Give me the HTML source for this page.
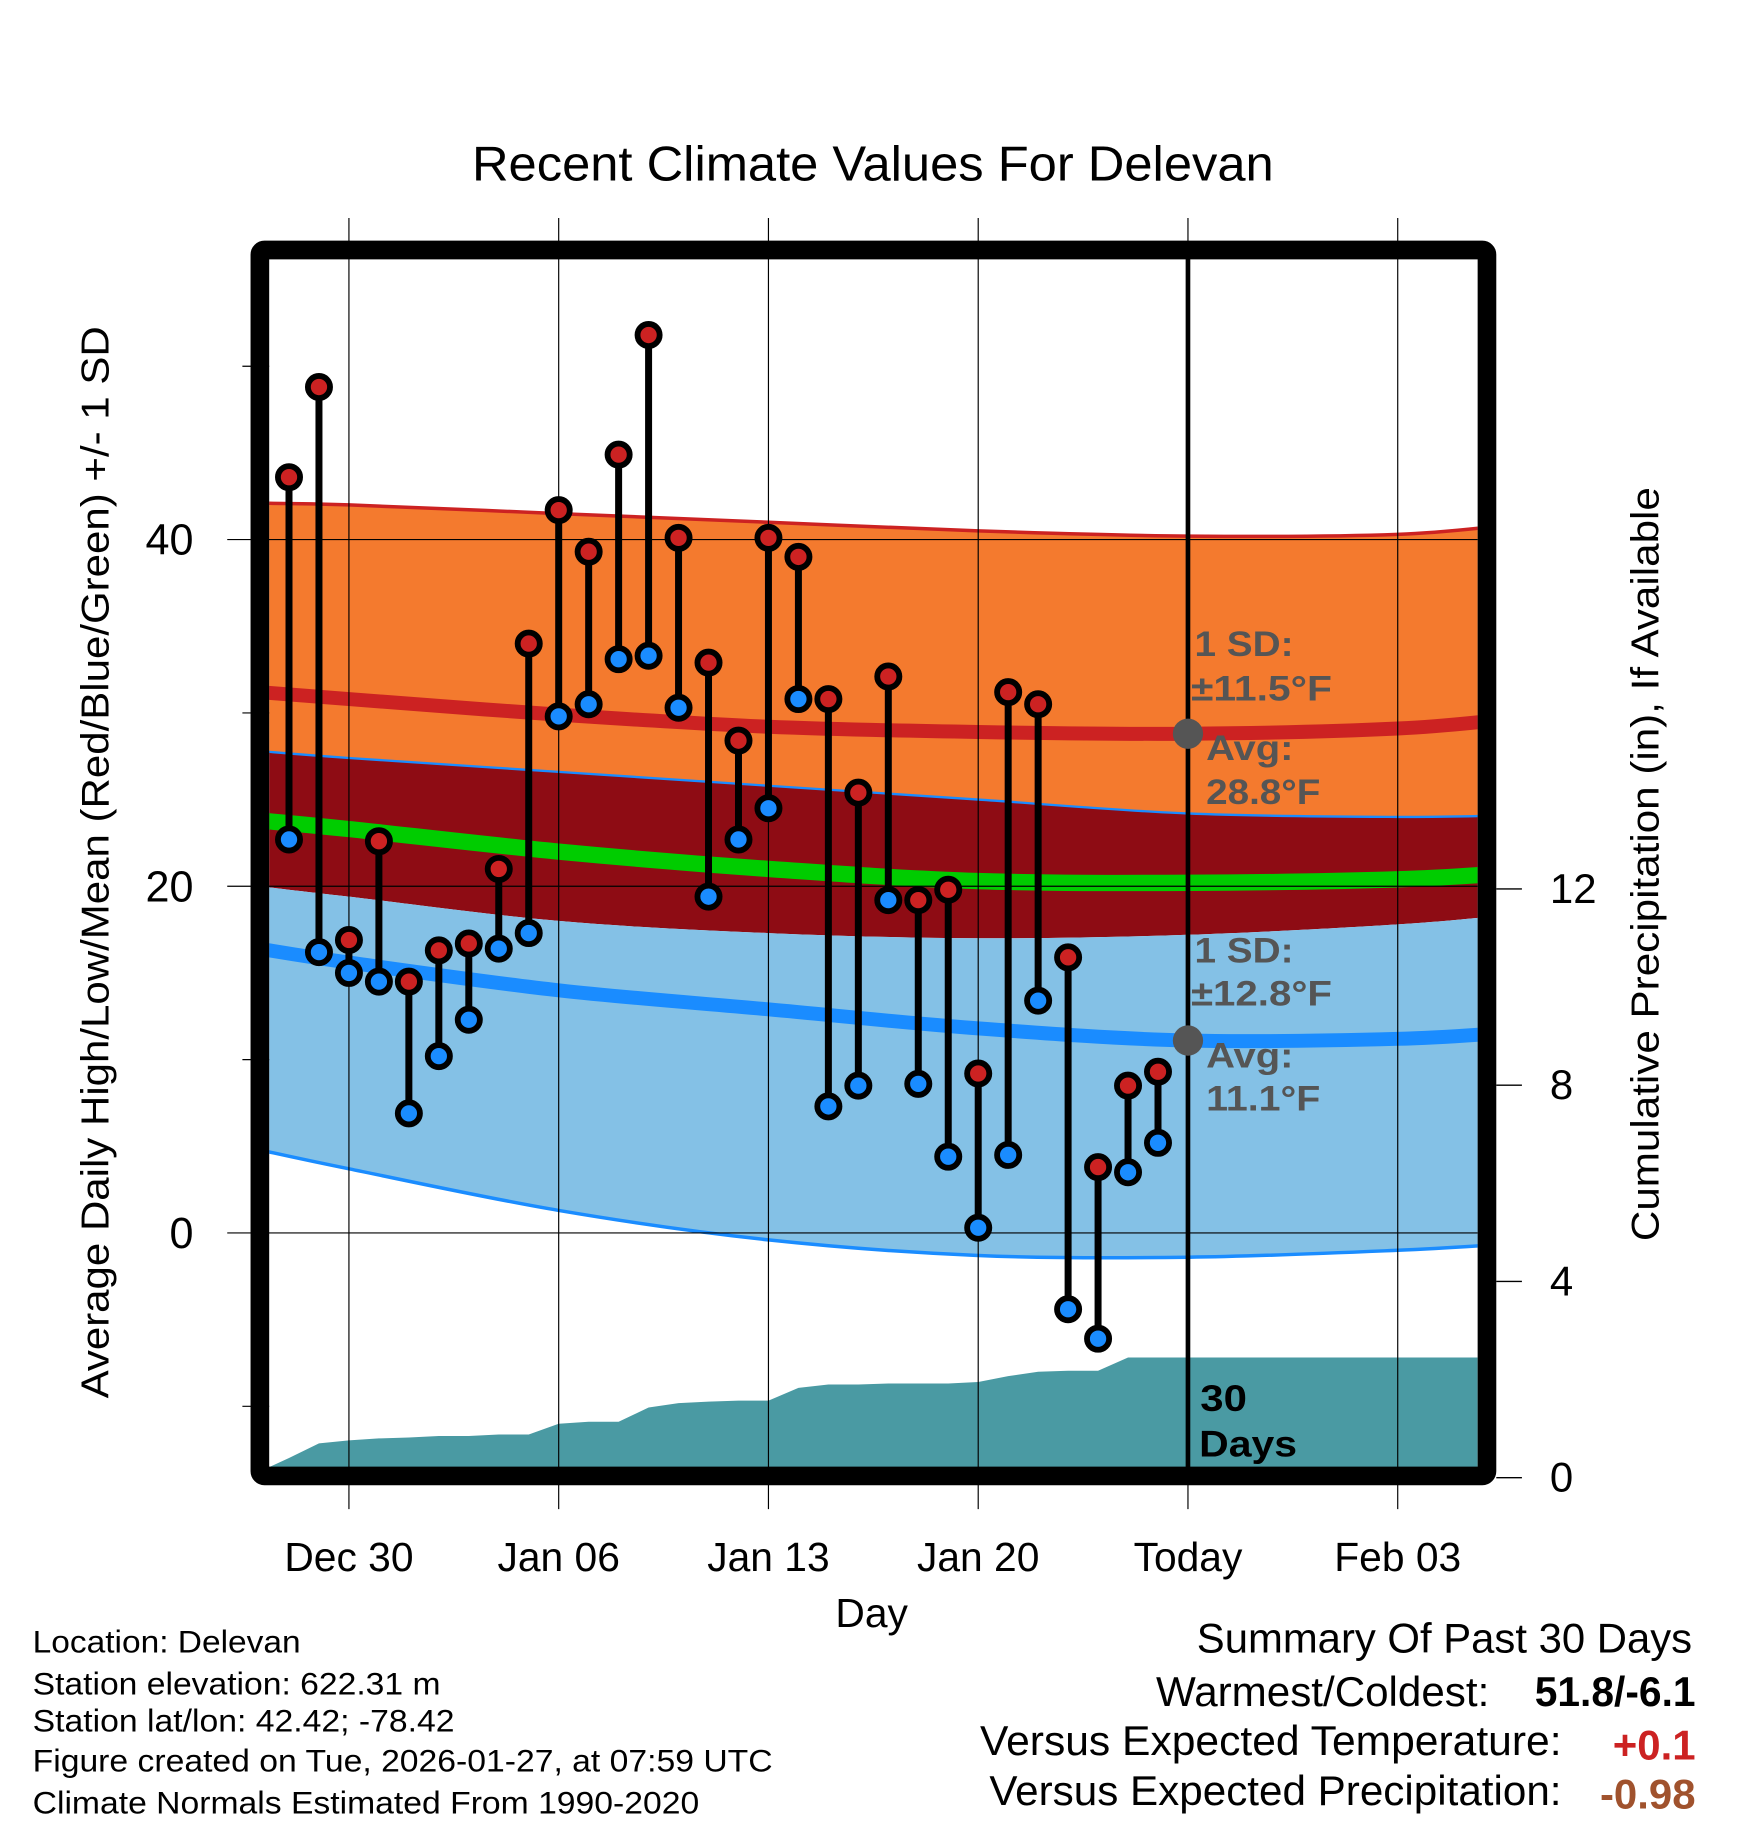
<!DOCTYPE html>
<html><head><meta charset="utf-8"><style>
html,body{margin:0;padding:0;background:#fff}
svg{display:block}
text{font-family:"Liberation Sans",sans-serif}
</style></head><body>
<svg id="chart" width="1748" height="1828" viewBox="0 0 1500 1568.6" xmlns="http://www.w3.org/2000/svg">
<g id="fills"></g><g id="grid"></g><g id="marks"></g><g id="frame"></g><g id="labels"></g>
</svg>
<script>
// ---- data ----
const pointDays = [0,1,2,3,4,5,6,7,8,9,10,11,12,13,14,15,16,17,18,19,20,21,22,23,24,25,26,27,28,29]; // days after Dec 28
const highs = [43.6,48.8,16.9,22.6,14.5,16.3,16.7,21.0,34.0,41.7,39.3,44.9,51.8,40.1,32.9,28.4,40.1,39.0,30.8,25.4,32.1,19.2,19.8,9.2,31.2,30.5,15.9,3.8,8.5,9.3];
const lows  = [22.7,16.2,15.0,14.5,6.9,10.2,12.3,16.4,17.3,29.8,30.5,33.1,33.3,30.3,19.4,22.7,24.5,30.8,7.3,8.5,19.2,8.6,4.4,0.3,4.5,13.4,-4.4,-6.1,3.5,5.2];
const precip = [0.4,0.7,0.76,0.8,0.82,0.85,0.85,0.88,0.88,1.1,1.14,1.14,1.43,1.52,1.55,1.57,1.57,1.83,1.9,1.9,1.92,1.92,1.92,1.95,2.07,2.16,2.18,2.18,2.45,2.45];
const normDays = [-1,2,9,16,23,30,37,41];
const sdHighTop = [42.1,42.0,41.5,41.0,40.5,40.2,40.3,40.9];
const avgHigh   = [31.2,30.8,29.9,29.2,28.9,28.8,29.1,29.7];
const sdHighBot = [27.8,27.4,26.6,25.8,25.0,24.2,24.0,24.1];
const avgMean   = [23.8,23.3,22.0,21.0,20.3,20.2,20.4,20.8];
const sdLowTop  = [20.0,19.4,18.0,17.3,17.0,17.2,17.8,18.4];
const avgLow    = [16.4,15.6,14.0,12.9,11.8,11.1,11.2,11.6];
const sdLowBot  = [4.8,3.7,1.3,-0.4,-1.3,-1.4,-1.0,-0.6];
const xTickDays = [2,9,16,23,30,37];
const xTickLabels = ["Dec 30","Jan 06","Jan 13","Jan 20","Today","Feb 03"];
const yTicks = [0,20,40];
const yMinor = [-10,10,30,50];
const pTicks = [0,4,8,12];

const NS="http://www.w3.org/2000/svg";
const L=231,R=1268,T=222,B=1259;
const X=d=>248+d*25.714;
const Y=v=>1058-v*14.875;
const P=v=>1268-v*42.1;
function mk(p,tag,at,txt){const e=document.createElementNS(NS,tag);for(const k in at)e.setAttribute(k,at[k]);if(txt!==undefined)e.textContent=txt;document.getElementById(p).appendChild(e);return e;}
function curve(ds,vs){let pts=ds.map((d,i)=>[X(d),Y(vs[i])]);let s="M"+pts[0];for(let i=0;i<pts.length-1;i++){const p0=pts[i-1]||pts[i],p1=pts[i],p2=pts[i+1],p3=pts[i+2]||p2;const c1=[p1[0]+(p2[0]-p0[0])/6,p1[1]+(p2[1]-p0[1])/6],c2=[p2[0]-(p3[0]-p1[0])/6,p2[1]-(p3[1]-p1[1])/6];s+=" C"+c1+" "+c2+" "+p2;}return s;}
function rev(ds,vs){return curve(ds.slice().reverse(),vs.slice().reverse()).replace(/^M/,"L");}
function band(a,b,fill,name){const e=mk("fills","path",{d:curve(normDays,a)+rev(normDays,b)+"Z",fill:fill,"clip-path":"url(#clip)"});}
const defs=mk("fills","defs",{});const cp=document.createElementNS(NS,"clipPath");cp.id="clip";const cr=document.createElementNS(NS,"rect");cr.setAttribute("x",L);cr.setAttribute("y",T);cr.setAttribute("width",R-L);cr.setAttribute("height",B-T);cp.appendChild(cr);defs.appendChild(cp);

band(sdHighTop,sdHighBot,"#f47a2e","high-sd-band");
band(sdHighBot,sdLowTop,"#8e0c14","overlap-band");
band(sdLowTop,sdLowBot,"#84c1e6","low-sd-band");
function line(vs,col,w,name){const e=mk("fills","path",{d:curve(normDays,vs),fill:"none",stroke:col,"stroke-width":w,"clip-path":"url(#clip)"});}
line(sdHighTop,"#cc2222",3,"high-sd-top-line");
line(avgHigh,"#cc2222",12,"avg-high-line");
line(sdHighBot,"#1a8cff",2,"high-sd-bottom-line");
line(avgMean,"#00cc00",14,"avg-mean-line");
line(avgLow,"#1a8cff",12,"avg-low-line");
line(sdLowBot,"#1a8cff",3,"low-sd-bottom-line");
// precip area
let pd="M"+L+","+B;precip.forEach((v,i)=>{pd+=" L"+X(pointDays[i])+","+P(v);});pd+=" L"+X(29.6)+","+P(precip[precip.length-1])+" L"+R+","+P(precip[precip.length-1])+" L"+R+","+B+"Z";
const pa=mk("fills","path",{d:pd,fill:"#4a9aa3","clip-path":"url(#clip)"});

// grid
xTickDays.forEach(d=>{const e=mk("grid","line",{x1:X(d),x2:X(d),y1:187,y2:1295,stroke:"#000","stroke-width":1});});
yTicks.forEach(v=>{const e=mk("grid","line",{x1:195,x2:R,y1:Y(v),y2:Y(v),stroke:"#000","stroke-width":1});});
yMinor.forEach(v=>{const e=mk("grid","line",{x1:208,x2:L,y1:Y(v),y2:Y(v),stroke:"#000","stroke-width":1});});
pTicks.forEach(v=>{const e=mk("grid","line",{x1:1284,x2:1306,y1:P(v),y2:P(v),stroke:"#000","stroke-width":1.2});});
const tl=mk("grid","line",{x1:X(30),x2:X(30),y1:T,y2:B,stroke:"#000","stroke-width":4});
// stems and dots
highs.forEach((h,i)=>{const x=X(pointDays[i]);const s=mk("marks","line",{x1:x,x2:x,y1:Y(h),y2:Y(lows[i]),stroke:"#000","stroke-width":6});});
highs.forEach((h,i)=>{const x=X(pointDays[i]);
const a=mk("marks","circle",{cx:x,cy:Y(h),r:9.5,fill:"#cc2222",stroke:"#000","stroke-width":5});
const b=mk("marks","circle",{cx:x,cy:Y(lows[i]),r:9.5,fill:"#1a8cff",stroke:"#000","stroke-width":5});});
const g1=mk("marks","circle",{cx:X(30),cy:Y(avgHigh[5]),r:13,fill:"#555"});
const g2=mk("marks","circle",{cx:X(30),cy:Y(avgLow[5]),r:13,fill:"#555"});
// frame
const fr=mk("frame","rect",{x:223,y:214.5,width:1053,height:1052,fill:"none",stroke:"#000","stroke-width":16,rx:4});
// labels
function t(x,y,s,txt,name,extra){const e=mk("labels","text",Object.assign({x:x,y:y,"font-size":s},extra||{}),txt);return e;}
xTickDays.forEach((d,i)=>t(X(d),1348,35,xTickLabels[i],"x-tick-label",{"text-anchor":"middle"}));
yTicks.forEach(v=>t(166,Y(v)+13,37,String(v),"y-tick-label",{"text-anchor":"end"}));
pTicks.forEach(v=>t(1330,P(v)+12,36,String(v),"precip-tick-label",{"text-anchor":"start"}));
</script>
<svg style="position:absolute;left:0;top:0" width="1748" height="1828" viewBox="0 0 1500 1568.6" xmlns="http://www.w3.org/2000/svg" font-family="Liberation Sans, sans-serif">
<text x="405" y="155" font-size="42" textLength="688" lengthAdjust="spacingAndGlyphs">Recent Climate Values For Delevan</text>
<text transform="translate(93,1200) rotate(-90)" font-size="33" textLength="920" lengthAdjust="spacingAndGlyphs">Average Daily High/Low/Mean (Red/Blue/Green) +/- 1 SD</text>
<text transform="translate(1423,1065) rotate(-90)" font-size="33" textLength="647" lengthAdjust="spacingAndGlyphs">Cumulative Precipitation (in), If Available</text>
<text x="748" y="1396" font-size="35" text-anchor="middle">Day</text>
<g font-size="30" font-weight="bold" fill="#555">
<text x="1025" y="563" textLength="85" lengthAdjust="spacingAndGlyphs">1 SD:</text><text x="1022" y="601" textLength="121" lengthAdjust="spacingAndGlyphs">±11.5°F</text>
<text x="1035" y="652" textLength="75" lengthAdjust="spacingAndGlyphs">Avg:</text><text x="1035" y="690" textLength="98" lengthAdjust="spacingAndGlyphs">28.8°F</text></g>
<g font-size="30" font-weight="bold" fill="#555">
<text x="1025" y="826" textLength="85" lengthAdjust="spacingAndGlyphs">1 SD:</text><text x="1022" y="863" textLength="121" lengthAdjust="spacingAndGlyphs">±12.8°F</text>
<text x="1035" y="916" textLength="75" lengthAdjust="spacingAndGlyphs">Avg:</text><text x="1035" y="953" textLength="98" lengthAdjust="spacingAndGlyphs">11.1°F</text></g>
<g font-size="32" font-weight="bold"><text x="1030" y="1211" textLength="40" lengthAdjust="spacingAndGlyphs">30</text><text x="1029" y="1250" textLength="84" lengthAdjust="spacingAndGlyphs">Days</text></g>
<g font-size="27">
<text x="28" y="1418" textLength="230" lengthAdjust="spacingAndGlyphs">Location: Delevan</text>
<text x="28" y="1454" textLength="350" lengthAdjust="spacingAndGlyphs">Station elevation: 622.31 m</text>
<text x="28" y="1486" textLength="362" lengthAdjust="spacingAndGlyphs">Station lat/lon: 42.42; -78.42</text>
<text x="28" y="1520" textLength="635" lengthAdjust="spacingAndGlyphs">Figure created on Tue, 2026-01-27, at 07:59 UTC</text>
<text x="28" y="1556" textLength="572" lengthAdjust="spacingAndGlyphs">Climate Normals Estimated From 1990-2020</text></g>
<g font-size="36">
<text x="1027" y="1418" textLength="425" lengthAdjust="spacingAndGlyphs">Summary Of Past 30 Days</text>
<text x="992" y="1464" textLength="286" lengthAdjust="spacingAndGlyphs">Warmest/Coldest:</text>
<text x="1317" y="1464" font-weight="bold" textLength="138" lengthAdjust="spacingAndGlyphs">51.8/-6.1</text>
<text x="841" y="1506" textLength="499" lengthAdjust="spacingAndGlyphs">Versus Expected Temperature:</text>
<text x="1455" y="1510" text-anchor="end" font-weight="bold" fill="#cc2222">+0.1</text>
<text x="849" y="1549" textLength="491" lengthAdjust="spacingAndGlyphs">Versus Expected Precipitation:</text>
<text x="1455" y="1552" text-anchor="end" font-weight="bold" fill="#a0522d">-0.98</text></g>
</svg>
</body></html>
